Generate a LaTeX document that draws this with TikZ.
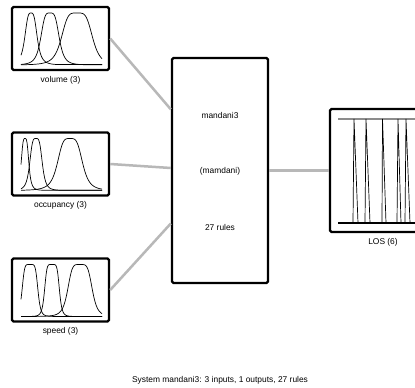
\documentclass[tikz,border=0pt]{standalone}
\usepackage{fontspec}
\setmainfont{Liberation Sans}
\usetikzlibrary{calc}
\newcommand\mfplot[4]{\draw[mf] plot[domain=21:102,samples=120] (\x,{#1+58-52*gb(\x,#3,#4,#2)});}
\begin{document}
\begin{tikzpicture}[x=1pt,y=-1pt,
  declare function={gb(\x,\a,\b,\c)=1/(1+(min(abs((\x-\c)/\a),4)+0.0001)^(2*\b));},
  fisbox/.style={draw=black,line width=2.4pt,rounded corners=1.5pt,inner sep=0pt},
  conn/.style={draw=black!28,line width=2.5pt},
  lbl/.style={font=\fontsize{8.4}{10}\selectfont,inner sep=0pt},
  mf/.style={line width=0.7pt}]
\clip (0,0) rectangle (415,388);
\fill[white] (0,0) rectangle (415,388);
% input boxes
\node[fisbox,minimum width=97pt,minimum height=63pt] (in1) at (60.5,38.5) {};
\node[fisbox,minimum width=97pt,minimum height=63pt] (in2) at (60.5,164) {};
\node[fisbox,minimum width=97pt,minimum height=63pt] (in3) at (60.5,290) {};
\node[lbl] (l1) at (60.5,80) {volume (3)};
\node[lbl] (l2) at (60.5,205.5) {occupancy (3)};
\node[lbl] (l3) at (60.5,331) {speed (3)};
% rule box
\node[fisbox,minimum width=96pt,minimum height=225pt] (rule) at (220,170.5) {};
\node[lbl] (t1) at (220,115) {mandani3};
\node[lbl] (t2) at (220,171.5) {(mamdani)};
\node[lbl] (t3) at (220,227) {27 rules};
% output box
\node[fisbox,minimum width=107pt,minimum height=123pt] (out) at (383.5,170.5) {};
\node[lbl] (l4) at (383,242) {LOS (6)};
% connectors
\draw[conn] (in1.east) -- ($(rule.north west)!0.231!(rule.south west)$);
\draw[conn] (in2.east) -- ($(rule.north west)!0.489!(rule.south west)$);
\draw[conn] (in3.east) -- ($(rule.north west)!0.733!(rule.south west)$);
\draw[conn] (rule.east) -- (out.west);
% MF plots: volume
\mfplot{7}{31}{6.5}{1.7}
\mfplot{7}{50}{9.5}{2}
\mfplot{7}{77}{16}{2.2}
% occupancy
\mfplot{132.5}{25}{4}{1.8}
\mfplot{132.5}{36}{6.5}{2}
\mfplot{132.5}{70}{13}{2}
% speed
\mfplot{258.5}{30}{8}{3}
\mfplot{258.5}{52}{7.5}{3}
\mfplot{258.5}{80}{12.5}{2.5}
% output MFs
\draw[draw=black!45,line width=1.2pt] (338,119) -- (420,119);
\draw[line width=1.2pt] (338,223) -- (420,223);
\foreach \a/\b/\c in {353/354/358,365/366/370,382/382.5/386,397/398/401,405/406/410,416/417/421}
  \draw[mf] (\a,223) -- (\b,119) -- (\c,223);
\node[lbl] (cap) at (220,380) {System mandani3: 3 inputs, 1 outputs, 27 rules};
\end{tikzpicture}
\end{document}
